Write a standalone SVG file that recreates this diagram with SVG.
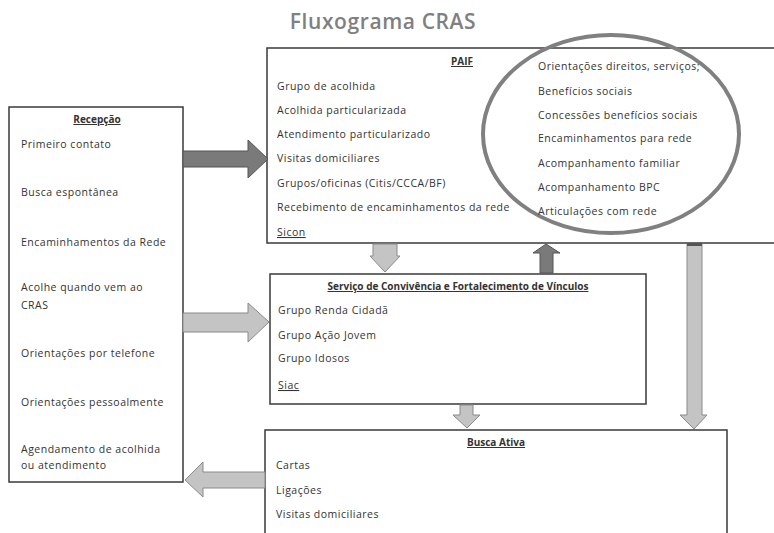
<svg xmlns="http://www.w3.org/2000/svg" width="774" height="533" viewBox="0 0 774 533">
<style>
.box{fill:#fff;stroke:#3a3a3a;stroke-width:1.5}
.t{font-family:"Open Sans","Liberation Sans",sans-serif;font-size:10.5px;letter-spacing:0.5px;fill:#333}
.h{font-family:"Open Sans","Liberation Sans",sans-serif;font-size:10px;font-weight:bold;fill:#333;text-decoration:underline}
.u{text-decoration:underline}
.dark{fill:#7a7a7a;stroke:#555;stroke-width:1}
.light{fill:#c4c4c4;stroke:#8a8a8a;stroke-width:1}
.title{font-family:"Open Sans","Liberation Sans",sans-serif;font-size:21px;font-weight:600;letter-spacing:0.6px;fill:#808080}
</style>
<rect width="774" height="533" fill="#fff"/>
<text class="title" x="383" y="29" text-anchor="middle">Fluxograma CRAS</text>

<g id="paif">
<rect class="box" x="267" y="48" width="512" height="195"/>
<text class="h" x="462" y="65" text-anchor="middle">PAIF</text>
<text class="t" x="277" y="90">Grupo de acolhida</text>
<text class="t" x="277" y="114">Acolhida particularizada</text>
<text class="t" x="277" y="138">Atendimento particularizado</text>
<text class="t" x="277" y="162">Visitas domiciliares</text>
<text class="t" x="277" y="187">Grupos/oficinas (Citis/CCCA/BF)</text>
<text class="t" x="277" y="211">Recebimento  de encaminhamentos  da rede</text>
<text class="t u" x="277" y="236">Sicon</text>
</g>

<g id="paif-circle">
<ellipse cx="611" cy="134" rx="128" ry="99" fill="none" stroke="#808080" stroke-width="4"/>
<text class="t" x="538" y="70">Orientações direitos, serviços;</text>
<text class="t" x="538" y="95">Benefícios sociais</text>
<text class="t" x="538" y="119">Concessões benefícios  sociais</text>
<text class="t" x="538" y="142">Encaminhamentos  para rede</text>
<text class="t" x="538" y="167">Acompanhamento familiar</text>
<text class="t" x="538" y="191">Acompanhamento BPC</text>
<text class="t" x="538" y="215">Articulações com rede</text>
</g>

<g id="recepcao">
<rect class="box" x="9" y="107" width="174" height="375"/>
<text class="h" x="97" y="123" text-anchor="middle">Recepção</text>
<text class="t" x="21" y="148">Primeiro contato</text>
<text class="t" x="21" y="196">Busca espontânea</text>
<text class="t" x="21" y="246">Encaminhamentos  da Rede</text>
<text class="t" x="21" y="291">Acolhe quando vem ao</text>
<text class="t" x="21" y="309">CRAS</text>
<text class="t" x="21" y="357">Orientações por telefone</text>
<text class="t" x="21" y="406">Orientações pessoalmente</text>
<text class="t" x="21" y="453">Agendamento de acolhida</text>
<text class="t" x="21" y="469">ou atendimento</text>
</g>

<g id="scfv">
<rect class="box" x="270" y="274" width="376" height="130"/>
<text class="h" x="458" y="290" text-anchor="middle">Serviço de Convivência  e Fortalecimento de Vínculos</text>
<text class="t" x="278" y="314">Grupo Renda  Cidadã</text>
<text class="t" x="278" y="339">Grupo Ação Jovem</text>
<text class="t" x="278" y="362">Grupo Idosos</text>
<text class="t u" x="278" y="389">Siac</text>
</g>

<g id="busca-ativa">
<rect class="box" x="265" y="430" width="462" height="120"/>
<text class="h" x="496" y="446" text-anchor="middle">Busca Ativa</text>
<text class="t" x="276" y="469">Cartas</text>
<text class="t" x="276" y="494">Ligações</text>
<text class="t" x="276" y="518">Visitas domiciliares</text>
</g>

<g id="connectors">
<polygon class="dark" points="183,151 248,151 248,140 268,159 248,178 248,167 183,167"/>
<polygon class="light" points="183,313 248,313 248,303 269,322 248,342 248,332 183,332"/>
<polygon class="light" points="265,472 203,472 203,462 185,480 203,497 203,488 265,488"/>
<polygon class="light" points="373,244 397,244 397,256 400,256 385,272 370,256 373,256"/>
<polygon class="dark" points="540,273 553,273 553,253 560,253 546,244 533,253 540,253"/>
<polygon class="light" points="460,405 473,405 473,415 480,415 467,428 453,415 460,415"/>
<polygon class="light" points="687,244 702,244 702,415 707,415 694,429 680,415 687,415"/>
<rect x="687" y="243" width="15" height="3" fill="#555"/>
</g>
</svg>
